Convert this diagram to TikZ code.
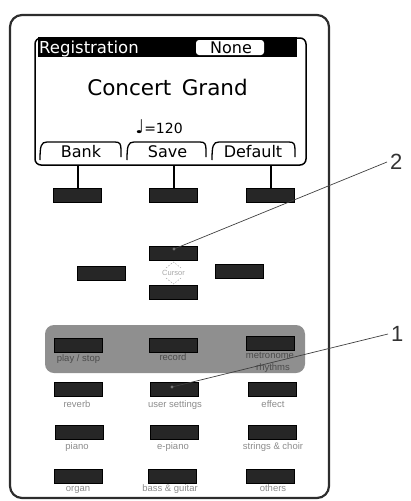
\documentclass[tikz,border=0pt]{standalone}
\usepackage{fontspec}
\setmainfont{Liberation Sans}
\newfontfamily\lcd{DejaVu Sans}
\definecolor{panelcol}{RGB}{143,143,143}
\definecolor{lblcol}{RGB}{140,140,140}
\definecolor{plblcol}{RGB}{75,75,75}
\definecolor{framecol}{RGB}{45,45,45}
\begin{document}
\begin{tikzpicture}[x=1pt,y=-1pt,
  btn/.style={draw=black,fill=black!85,line width=1pt,minimum width=48pt,minimum height=14pt,inner sep=0pt},
  lab/.style={text=lblcol,font=\fontsize{9.5}{9.5}\selectfont,anchor=base,inner sep=0pt},
  plab/.style={lab,text=plblcol},
  tabline/.style={line width=1.3pt},
  lcdtext/.style={anchor=base,inner sep=0pt},
  call/.style={draw=black!75,line width=0.7pt},
  num/.style={font=\fontsize{22}{22}\selectfont,text=black!80,anchor=west,inner sep=3pt}]
\useasboundingbox (0,0) rectangle (411,501);
% outer frame
\draw[framecol,line width=2.2pt,rounded corners=12pt] (10,15) rectangle (329,498);
% LCD
\node[draw,line width=1.5pt,rounded corners=6pt,minimum width=271pt,minimum height=127pt,inner sep=0pt] (lcd) at (170.5,101.5) {};
\fill[black] (38,37) rectangle (297,57);
\node[lcdtext,anchor=base west,text=white,font=\lcd\fontsize{16.5}{16.5}\selectfont] (reg) at (39,53) {Registration};
\node[fill=white,rounded corners=3pt,minimum width=68pt,minimum height=15pt,inner sep=0pt] (nonebox) at (230,47.5) {};
\node[lcdtext,font=\lcd\fontsize{16}{16}\selectfont] (none) at (231,53) {None};
\node[lcdtext,font=\lcd\fontsize{21.5}{21.5}\selectfont] (title) at (167.5,95) {Concert\, Grand};
\node[lcdtext,font=\lcd\fontsize{14}{14}\selectfont] (tempo) at (159,133) {{\fontsize{19}{19}\selectfont ♩}=120};
% tabs
\foreach \l/\r in {40/121,127/206,212/295}{
  \draw[tabline] (\l,160) .. controls (\l,146) and (\l+1,142) .. (\l+7,142) -- (\r-6,142) .. controls (\r-1,142) and (\r,144) .. (\r,150) -- (\r,157);
}
\node[lcdtext,font=\lcd\fontsize{16}{16}\selectfont] (bank) at (81,157) {Bank};
\node[lcdtext,font=\lcd\fontsize{16}{16}\selectfont] (save) at (167.5,157) {Save};
\node[lcdtext,font=\lcd\fontsize{16}{16}\selectfont] (default) at (253,157) {Default};
% soft buttons
\node[btn] (s1) at (77.5,195.5) {};
\node[btn] (s2) at (173.5,195.5) {};
\node[btn] (s3) at (270.5,195.5) {};
\foreach \b in {s1,s2,s3}{\draw[line width=2pt] (lcd.south -| \b.north) -- (\b.north);}
% cursor
\node[btn] (cup) at (173.5,253) {};
\node[btn] (cleft) at (101.5,273) {};
\node[btn] (cright) at (239.5,271.5) {};
\node[btn] (cdown) at (173.5,292.5) {};
\node[text=black!35,font=\fontsize{7.5}{7.5}\selectfont,inner sep=0pt] (cur) at (173.5,273) {Cursor};
\draw[black!30,dash pattern=on 1.5pt off 1.5pt,line width=0.6pt] (166,268) -- (173.5,262) -- (181,268);
\draw[black!30,dash pattern=on 1.5pt off 1.5pt,line width=0.6pt] (166,278) -- (173.5,284) -- (181,278);
% panel
\fill[panelcol,rounded corners=9pt] (45,325) rectangle (305,373);
\node[plab] (lplay) at (78.5,361) {play / stop};
\node[plab] (lrec) at (173,360) {record};
\node[plab] (lmet) at (270,358.5) {metronome};
\node[plab] (lrhy) at (273,370.5) {rhythms};
\node[btn] (play) at (78,345) {};
\node[btn] (rec) at (173.5,345) {};
\node[btn] (met) at (270.5,343.5) {};
% rows
\node[btn] (rev) at (78,389.5) {};
\node[btn] (user) at (174,389.5) {};
\node[btn] (eff) at (272,389.5) {};
\node[lab] (lrev) at (77,407) {reverb};
\node[lab] (luser) at (175,407) {user settings};
\node[lab] (leff) at (273,407) {effect};
\node[btn] (pia) at (79,432) {};
\node[btn] (epia) at (174,432) {};
\node[btn] (str) at (272,432) {};
\node[lab] (lpia) at (77,449.5) {piano};
\node[lab] (lepia) at (173,449.5) {e-piano};
\node[lab] (lstr) at (273,449.5) {strings \& choir};
\node[btn] (org) at (78,476) {};
\node[btn] (bass) at (172.5,476) {};
\node[btn] (oth) at (270.5,476) {};
\node[lab] (lorg) at (78,491.5) {organ};
\node[lab] (lbass) at (170,491.5) {bass \& guitar};
\node[lab] (loth) at (273,491.5) {others};
% callouts
\coordinate (d2) at (174,249);
\coordinate (d1) at (172,387);
\node[num] (n2) at (387,162) {2};
\node[num] (n1) at (388,334) {1};
\draw[call] (d2) -- (n2.west);
\draw[call] (d1) -- (n1.west);
\fill[black!55] (d2) circle (1.6pt);
\fill[black!55] (d1) circle (1.6pt);
\end{tikzpicture}
\end{document}
